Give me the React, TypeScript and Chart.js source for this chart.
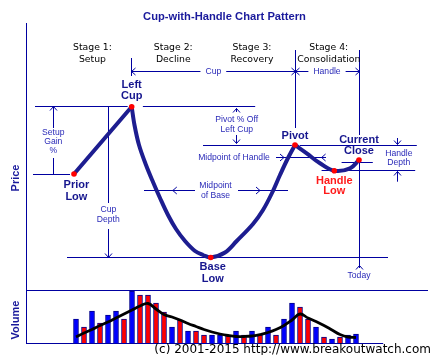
import React, { useEffect, useRef } from 'react';
import { Chart, registerables } from 'chart.js';

Chart.register(...registerables);

// ---------------- data ----------------
const volumeDays = [6, 7, 8, 9, 10, 11, 12, 13, 14, 15, 16, 17, 18, 19, 20, 21, 22, 23, 24, 25, 26, 27, 28, 29, 30, 31, 32, 33, 34, 35, 36, 37, 38, 39, 40, 41];
const volumes = [24, 16, 32, 20, 28, 32, 24, 52, 48, 48, 40, 31, 16, 23, 12, 12, 8, 8, 8, 8, 12, 8, 12, 8, 16, 8, 24, 40, 36, 24, 16, 6, 4, 6, 8, 9];
const volumeDirection = ['up', 'down', 'up', 'down', 'up', 'up', 'down', 'up', 'down', 'down', 'down', 'down', 'up', 'down', 'up', 'down', 'down', 'up', 'up', 'down', 'up', 'down', 'up', 'down', 'up', 'down', 'up', 'up', 'down', 'down', 'up', 'down', 'up', 'down', 'up', 'up'];
const volumeTrend = [6, 10, 13.5, 17.5, 21, 25, 29, 33, 37, 39.5, 34, 28.5, 26, 23, 19.5, 16.5, 13.5, 11, 9, 7.5, 6.5, 6.5, 7, 8.5, 10.5, 13.5, 17.5, 23, 29, 25, 21.5, 17.5, 13, 8.5, 6, 5.5];

const setupDays = [5.75, 12.96];
const setupPrices = [116, 183.3];
const cupDays = [12.96, 13.31, 13.875, 14.75, 15.625, 16.5, 17.5, 18.5, 19.625, 20.875, 21.875, 22.84, 24.625, 26.09, 28.125, 29.375, 30.5, 31.5, 32.44, 33.375];
const cupPrices = [183.3, 165, 145, 125, 108, 92, 75, 61, 49, 39, 35, 32.5, 37.5, 49, 66, 80, 97, 115, 131, 145];
const handleDays = [33.375, 34.84, 36.5, 38.29, 40.25, 41.375];
const handlePrices = [145, 136.7, 126.7, 119.3, 121.7, 130];

const keyNames = ['Prior Low', 'Left Cup', 'Base Low', 'Pivot', 'Handle Low', 'Current Close'];
const keyDays = [5.75, 12.96, 22.84, 33.375, 38.29, 41.375];
const keyPrices = [116, 183.3, 32.5, 145, 119.3, 130];

const stageTitles = ['Stage 1:', 'Stage 2:', 'Stage 3:', 'Stage 4:'];
const stageNames = ['Setup', 'Decline', 'Recovery', 'Consolidation'];

// ---------------- styles ----------------
const NAVY = '#0000a0';
const LABEL = '#2a2ab8';
const BOLDC = '#16168e';
const RED = '#ff1a1a';
const SMALL = '8.6px "Liberation Sans", Arial, sans-serif';
const BOLDF = 'bold 11px "Liberation Sans", Arial, sans-serif';
const STAGEF = '9.3px "DejaVu Sans", sans-serif';

const pts = (xs: number[], ys: number[]) => xs.map((x, i) => ({ x, y: ys[i] }));
const key = (name: string) => {
  const i = keyNames.indexOf(name);
  return { d: keyDays[i], p: keyPrices[i] };
};

const cupPlugin = {
  id: 'cupAnnotations',
  beforeDatasetsDraw(chart: any) {
    const ctx = chart.ctx;
    const xs = chart.scales.x, ys = chart.scales.y, vs = chart.scales.yv;
    const X = (d: number) => xs.getPixelForValue(d);
    const Y = (p: number) => ys.getPixelForValue(p);
    const c = (v: number) => Math.floor(v) + 0.5;
    const PL = key('Prior Low'), LC = key('Left Cup'), BL = key('Base Low');
    const PV = key('Pivot'), HL = key('Handle Low'), CC = key('Current Close');
    ctx.save();
    ctx.strokeStyle = NAVY;
    ctx.lineWidth = 1;
    const seg = (x1: number, y1: number, x2: number, y2: number) => {
      ctx.beginPath(); ctx.moveTo(x1, y1); ctx.lineTo(x2, y2); ctx.stroke();
    };
    const h = (p: number, d1: number, d2: number) => { const y = c(Y(p)); seg(X(d1), y, X(d2), y); };
    const v = (d: number, p1: number, p2: number) => { const x = c(X(d)); seg(x, Y(p1), x, Y(p2)); };
    const arrow = (x: number, y: number, dir: string) => {
      const L = 4, W = 3.5;
      ctx.beginPath();
      if (dir === 'up') { ctx.moveTo(x - W, y + L); ctx.lineTo(x, y); ctx.lineTo(x + W, y + L); }
      if (dir === 'down') { ctx.moveTo(x - W, y - L); ctx.lineTo(x, y); ctx.lineTo(x + W, y - L); }
      if (dir === 'left') { ctx.moveTo(x + L, y - W); ctx.lineTo(x, y); ctx.lineTo(x + L, y + W); }
      if (dir === 'right') { ctx.moveTo(x - L, y - W); ctx.lineTo(x, y); ctx.lineTo(x - L, y + W); }
      ctx.stroke();
    };
    const { left, right, top, bottom } = chart.chartArea;
    // axes
    const ax = c(left - 1.3);
    seg(ax, top, ax, bottom + 1);
    const y0 = c(Y(0));
    seg(ax, y0, right, y0);
    const yb = c(vs.getPixelForValue(0));
    seg(ax, yb, X(44.4), yb);

    // stage spans
    v(LC.d, 214, 232);
    v(PV.d, 162, 240);
    v(CC.d, 155, 240);
    v(CC.d, 22, CC.p);
    arrow(c(X(CC.d)), c(Y(25)), 'up');
    ctx.font = SMALL;
    const spanP = 218;
    const sy = c(Y(spanP));
    const cupMid = X((LC.d + PV.d) / 2), hanMid = X((PV.d + CC.d) / 2);
    const gC = ctx.measureText('Cup').width / 2 + 5;
    const gH = ctx.measureText('Handle').width / 2 + 5;
    seg(c(X(LC.d)), sy, cupMid - gC, sy); seg(cupMid + gC, sy, c(X(PV.d)), sy);
    seg(c(X(PV.d)), sy, hanMid - gH, sy); seg(hanMid + gH, sy, c(X(CC.d)), sy);
    arrow(c(X(LC.d)), sy, 'left'); arrow(c(X(PV.d)), sy, 'right');
    arrow(c(X(PV.d)), sy, 'left'); arrow(c(X(CC.d)), sy, 'right');

    // price levels
    h(LC.p, 0.875, LC.d - 0.5); h(LC.p, LC.d + 1.4, 28.4);
    h(PL.p, 0.625, PL.d - 0.5);
    h(BL.p, 4.875, 45);
    h(PV.p, 21.875, PV.d - 0.4); h(PV.p, PV.d + 0.6, 48.6);
    h(HL.p, 36.7, 48.4);
    h(CC.p - 2.3, 39.2, 43.1);

    // setup gain
    const sgx = 3.16;
    v(sgx, 162, LC.p); arrow(c(X(sgx)), c(Y(LC.p)), 'up');
    v(sgx, PL.p, 132);
    // cup depth
    const cdx = 10.04;
    v(cdx, 87, LC.p); v(cdx, BL.p, 61); arrow(c(X(cdx)), c(Y(BL.p)), 'down');
    // midpoint of base
    const mb = 100;
    h(mb, 14.5, 20.875); arrow(X(18.1), c(Y(mb)), 'left');
    h(mb, 26.25, 32.5); arrow(X(29), c(Y(mb)), 'right');
    // midpoint of handle
    const mh = (PV.p + HL.p) / 2;
    h(mh, 31, 37.25); arrow(X(32), c(Y(mh)), 'right'); arrow(X(36.7), c(Y(mh)), 'left');
    // pivot % off left cup
    const pox = 26.09;
    v(pox, 178, LC.p - 1.6); arrow(c(X(pox)), c(Y(LC.p - 1.6)), 'up');
    v(pox, PV.p + 1.7, 155); arrow(c(X(pox)), c(Y(PV.p + 1.7)), 'down');
    // handle depth
    const hdx = 46.2;
    v(hdx, PV.p + 0.7, 152); arrow(c(X(hdx)), c(Y(PV.p + 0.7)), 'down');
    v(hdx, HL.p - 11, HL.p - 0.7); arrow(c(X(hdx)), c(Y(HL.p - 0.7)), 'up');
    ctx.restore();
  },
  afterDatasetsDraw(chart: any) {
    const ctx = chart.ctx;
    const xs = chart.scales.x, ys = chart.scales.y;
    const X = (d: number) => xs.getPixelForValue(d);
    const Y = (p: number) => ys.getPixelForValue(p);
    const PL = key('Prior Low'), LC = key('Left Cup'), BL = key('Base Low');
    const PV = key('Pivot'), HL = key('Handle Low'), CC = key('Current Close');
    ctx.save();
    ctx.textAlign = 'center';
    ctx.textBaseline = 'middle';
    const t = (s: string, x: number, y: number, font: string, color: string) => {
      ctx.font = font; ctx.fillStyle = color; ctx.fillText(s, x, y);
    };
    // title
    t('Cup-with-Handle Chart Pattern', 224.5, 16.8, 'bold 11.2px "Liberation Sans", Arial, sans-serif', '#1a1a9c');
    // stages
    const stageX = [8.06, 18.16, 28, 37.6];
    stageTitles.forEach((s, i) => {
      t(s, X(stageX[i]), 47.5, STAGEF, '#000');
      t(stageNames[i], X(stageX[i]), 59.5, STAGEF, '#000');
    });
    // small labels
    t('Cup', X((LC.d + PV.d) / 2), Y(218), SMALL, LABEL);
    t('Handle', X((PV.d + CC.d) / 2), Y(218), SMALL, LABEL);
    t('Setup', X(3.16), Y(157), SMALL, LABEL);
    t('Gain', X(3.16), Y(148), SMALL, LABEL);
    t('%', X(3.16), Y(139), SMALL, LABEL);
    t('Cup', X(10.04), Y(80), SMALL, LABEL);
    t('Depth', X(10.04), Y(70.3), SMALL, LABEL);
    t('Midpoint', X(23.44), Y(104.5), SMALL, LABEL);
    t('of Base', X(23.44), Y(94.5), SMALL, LABEL);
    t('Midpoint of Handle', X(25.75), Y(132.7), SMALL, LABEL);
    t('Pivot % Off', X(26.09), Y(170), SMALL, LABEL);
    t('Left Cup', X(26.09), Y(160.7), SMALL, LABEL);
    t('Handle', X(46.35), Y(136.7), SMALL, LABEL);
    t('Depth', X(46.35), Y(127.3), SMALL, LABEL);
    t('Today', X(CC.d), Y(14), SMALL, LABEL);
    // bold point labels
    t('Left', X(LC.d), Y(LC.p + 22), BOLDF, BOLDC);
    t('Cup', X(LC.d), Y(LC.p + 11), BOLDF, BOLDC);
    t('Prior', X(PL.d + 0.3), Y(PL.p - 11.3), BOLDF, BOLDC);
    t('Low', X(PL.d + 0.3), Y(PL.p - 22.7), BOLDF, BOLDC);
    t('Base', X(BL.d + 0.25), Y(BL.p - 9.5), BOLDF, BOLDC);
    t('Low', X(BL.d + 0.25), Y(BL.p - 21), BOLDF, BOLDC);
    t('Pivot', X(PV.d), Y(PV.p + 9.3), BOLDF, BOLDC);
    t('Current', X(CC.d), Y(CC.p + 20), BOLDF, BOLDC);
    t('Close', X(CC.d), Y(CC.p + 9.3), BOLDF, BOLDC);
    t('Handle', X(HL.d), Y(HL.p - 10), BOLDF, RED);
    t('Low', X(HL.d), Y(HL.p - 20), BOLDF, RED);
    // axis titles
    const rot = (s: string, x: number, y: number) => {
      ctx.save(); ctx.translate(x, y); ctx.rotate(-Math.PI / 2);
      t(s, 0, 0, BOLDF, '#1a1a9c'); ctx.restore();
    };
    rot('Price', 15.5, 178);
    rot('Volume', 15.5, 320);
    // copyright
    ctx.textAlign = 'right';
    t('(c) 2001-2015 http://www.breakoutwatch.com', 431, 349.5, '12px "DejaVu Sans", sans-serif', '#000');
    ctx.restore();
  },
};

export default function App() {
  const ref = useRef<HTMLCanvasElement>(null);
  useEffect(() => {
    const priceLine = {
      borderColor: '#1d1d90',
      borderWidth: 4,
      borderCapStyle: 'round',
      borderJoinStyle: 'round',
      pointRadius: 0,
      yAxisID: 'y',
      order: 1,
    };
    const chart = new Chart(ref.current as HTMLCanvasElement, {
      type: 'bar',
      data: {
        datasets: [
          {
            type: 'line',
            label: 'key points',
            data: pts(keyDays, keyPrices),
            showLine: false,
            pointRadius: 2.8,
            pointBorderWidth: 0,
            pointBackgroundColor: '#ff0000',
            yAxisID: 'y',
            order: 0,
          },
          { type: 'line', label: 'setup', data: pts(setupDays, setupPrices), tension: 0, ...priceLine },
          { type: 'line', label: 'cup', data: pts(cupDays, cupPrices), tension: 0.35, ...priceLine },
          { type: 'line', label: 'handle', data: pts(handleDays, handlePrices), tension: 0.4, ...priceLine },
          {
            type: 'line',
            label: 'volume trend',
            data: pts(volumeDays, volumeTrend),
            borderColor: '#000',
            borderWidth: 2.8,
            tension: 0.4,
            pointRadius: 0,
            yAxisID: 'yv',
            order: 2,
          },
          {
            type: 'bar',
            label: 'volume',
            data: pts(volumeDays, volumes),
            backgroundColor: volumeDirection.map((d) => (d === 'up' ? '#0000ff' : '#ff0000')),
            borderColor: '#00008a',
            borderWidth: 1,
            barThickness: 5,
            yAxisID: 'yv',
            order: 3,
          },
        ] as any,
      },
      options: {
        responsive: false,
        animation: false,
        devicePixelRatio: 1,
        events: [],
        layout: { padding: { left: 28, right: 12, top: 23, bottom: 12 } },
        plugins: { legend: { display: false }, tooltip: { enabled: false }, title: { display: false } },
        scales: {
          x: { type: 'linear', min: 0, max: 50, display: false, offset: false },
          y: { type: 'linear', min: -53, max: 267, display: false },
          yv: { type: 'linear', min: 0, max: 320, display: false },
        },
      } as any,
      plugins: [cupPlugin],
    });
    return () => chart.destroy();
  }, []);
  return (
    <div style={{ position: 'fixed', left: 0, top: 0, width: 440, height: 355, background: '#fff' }}>
      <canvas ref={ref} width={440} height={355} style={{ display: 'block', width: 440, height: 355 }} />
    </div>
  );
}
